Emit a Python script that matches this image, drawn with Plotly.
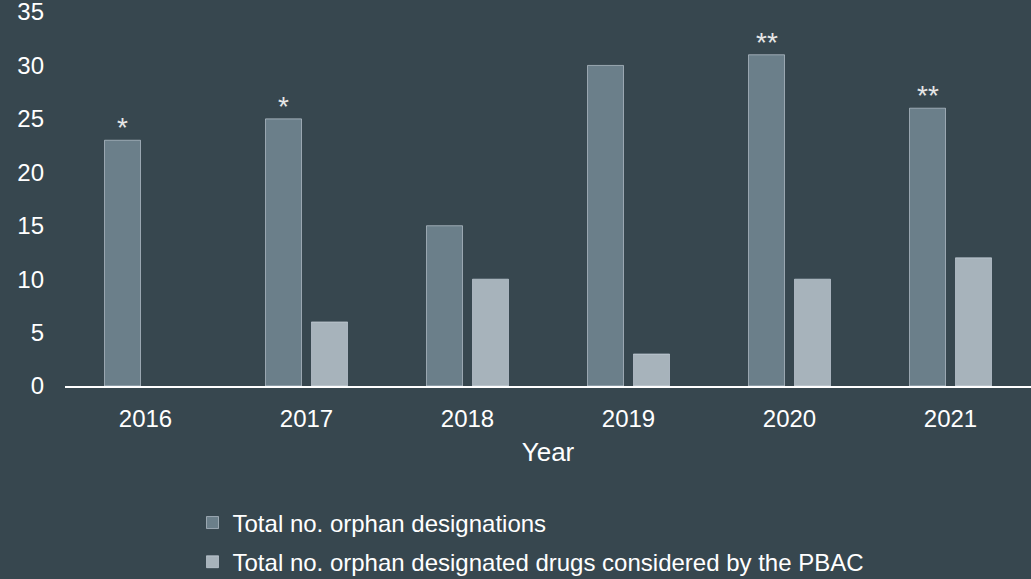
import plotly.graph_objects as go

years = ["2016", "2017", "2018", "2019", "2020", "2021"]
orphan_designations = [23, 25, 15, 30, 31, 26]
pbac_considered = [None, 6, 10, 3, 10, 12]
marks = ["*", "*", "", "", "**", "**"]

BG = "#37474F"
DARK = "#6B7F8A"
LIGHT = "#A7B3BB"
TXT = "#FFFFFF"
FONT = "Liberation Sans, Arial, sans-serif"
FS = 24

fig = go.Figure()
fig.add_trace(go.Bar(x=years, y=orphan_designations, name="Total no. orphan designations",
                     marker_color=DARK, legendgroup="a"))
fig.add_trace(go.Bar(x=years, y=pbac_considered,
                     name="Total no. orphan designated drugs considered by the PBAC",
                     marker_color=LIGHT, legendgroup="b"))

for i, (v, m) in enumerate(zip(orphan_designations, marks)):
    if m:
        fig.add_annotation(x=i, y=v, xref="x", yref="y", text=m, showarrow=False,
                           xshift=-23, yshift=-5, yanchor="bottom",
                           font=dict(family=FONT, size=28, color="#E6E6E6"))

fig.update_layout(
    width=1031, height=579,
    paper_bgcolor=BG, plot_bgcolor=BG,
    margin=dict(l=65, r=0, t=12, b=193, autoexpand=False),
    barmode="group", bargap=0.4286, bargroupgap=0.217,
    font=dict(family=FONT, size=FS, color=TXT),
    showlegend=True,
    legend=dict(x=0.132, xanchor="left", y=-0.306, yanchor="top",
                orientation="v", tracegroupgap=5, bgcolor="rgba(0,0,0,0)",
                font=dict(family=FONT, size=FS, color=TXT), itemwidth=30),
)
fig.update_xaxes(type="category", automargin=False, showgrid=False, showline=True,
                 linecolor="#FFFFFF", linewidth=2, ticks="", ticklabelstandoff=10,
                 title=dict(text="Year", standoff=12, font=dict(family=FONT, size=26, color=TXT)),
                 tickfont=dict(family=FONT, size=FS, color=TXT))
fig.update_yaxes(range=[0, 35], dtick=5, automargin=False, showgrid=False, zeroline=False,
                 showline=False, ticks="", ticklabelstandoff=20, ticklabeloverflow="allow",
                 tickfont=dict(family=FONT, size=FS, color=TXT))

fig.write_html("out.html", config={"displayModeBar": False},
               post_script="document.body.style.margin='0';")
